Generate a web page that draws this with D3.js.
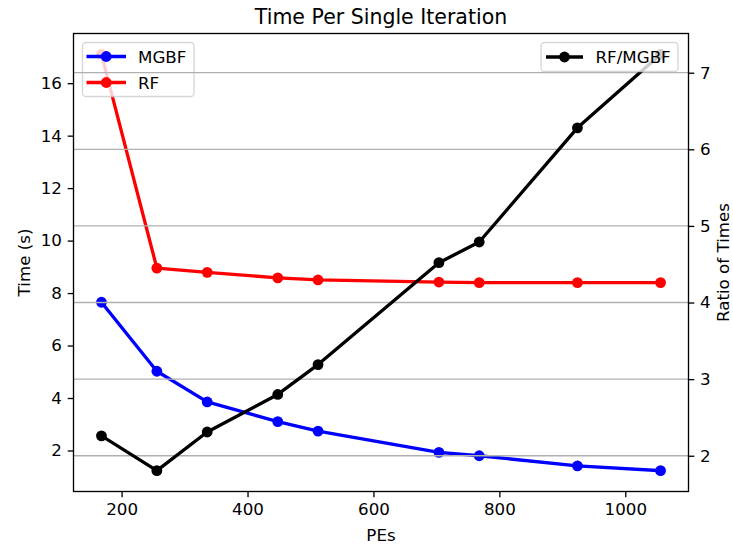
<!DOCTYPE html>
<html>
<head>
<meta charset="utf-8">
<script src="https://cdn.jsdelivr.net/npm/d3@7"></script>
<style>
  html, body { margin: 0; padding: 0; background: #fff; }
  svg { display: block; font-family: "DejaVu Sans", sans-serif; }
</style>
</head>
<body>
<svg id="chart" width="733" height="544"></svg>
<script>
// ---- data ----
const pes = [168, 256, 336, 448, 512, 704, 768, 924, 1056];
const mgbf = [7.65, 5.02, 3.85, 3.10, 2.74, 1.93, 1.80, 1.41, 1.23];
const rf = [17.1, 8.95, 8.79, 8.58, 8.50, 8.42, 8.40, 8.40, 8.40];
const ratio = [2.26, 1.805, 2.31, 2.80, 3.19, 4.52, 4.79, 6.28, 7.24];
const xTicks = [200, 400, 600, 800, 1000];
const yLeftTicks = [2, 4, 6, 8, 10, 12, 14, 16];
const yRightTicks = [2, 3, 4, 5, 6, 7];
const titleText = "Time Per Single Iteration";
const xLabel = "PEs";
const yLeftLabel = "Time (s)";
const yRightLabel = "Ratio of Times";

// ---- layout ----
const L = 73.5, R = 688.5, T = 33.5, B = 491.5;
const svg = d3.select("#chart");
const pad = (ext) => { const r = ext[1] - ext[0]; return [ext[0] - 0.05 * r, ext[1] + 0.05 * r]; };

const x = d3.scaleLinear().domain(pad(d3.extent(pes))).range([L, R]);
const yL = d3.scaleLinear().domain(pad([d3.min(mgbf.concat(rf)), d3.max(mgbf.concat(rf))])).range([B, T]);
const yR = d3.scaleLinear().domain(pad(d3.extent(ratio))).range([B, T]);

const fs = 16.7;
const lw = 3.33;
const mr = 5.4;
const tk = 5.8;

svg.append("defs").append("clipPath").attr("id", "clip")
  .append("rect").attr("x", L).attr("y", T).attr("width", R - L).attr("height", B - T);

function drawSeries(g, xs, ys, yScale, color) {
  const line = d3.line().x((d, i) => x(xs[i])).y(d => yScale(d));
  g.append("path").datum(ys).attr("d", line)
    .attr("fill", "none").attr("stroke", color).attr("stroke-width", lw)
    .attr("stroke-linejoin", "round").attr("stroke-linecap", "square")
    .attr("clip-path", "url(#clip)");
  g.selectAll(null).data(ys).enter().append("circle")
    .attr("cx", (d, i) => x(xs[i])).attr("cy", d => yScale(d))
    .attr("r", mr).attr("fill", color);
}

// ax1 content
const g1 = svg.append("g");
drawSeries(g1, pes, mgbf, yL, "#0000ff");
drawSeries(g1, pes, rf, yL, "#ff0000");

function legend(g, x0, y0, w, h, items, handleX, textX, rowY) {
  g.append("rect").attr("x", x0).attr("y", y0).attr("width", w).attr("height", h)
    .attr("rx", 3.5).attr("ry", 3.5)
    .attr("fill", "#ffffff").attr("fill-opacity", 0.8)
    .attr("stroke", "#cccccc").attr("stroke-opacity", 0.8).attr("stroke-width", 1.3);
  items.forEach((it, i) => {
    const yy = rowY[i];
    g.append("line").attr("x1", handleX[0]).attr("x2", handleX[1]).attr("y1", yy).attr("y2", yy)
      .attr("stroke", it.color).attr("stroke-width", lw);
    g.append("circle").attr("cx", (handleX[0] + handleX[1]) / 2).attr("cy", yy).attr("r", mr).attr("fill", it.color);
    g.append("text").attr("x", textX).attr("y", yy).attr("dy", "0.36em")
      .attr("font-size", fs).attr("fill", "#000").text(it.label);
  });
}

// ax1 legend
legend(svg.append("g"), 82.5, 42.5, 111.5, 54,
  [{label: "MGBF", color: "#0000ff"}, {label: "RF", color: "#ff0000"}],
  [86.5, 126], 138, [56.5, 82.5]);

// ax2 grid
const g2 = svg.append("g");
g2.selectAll(null).data(yRightTicks).enter().append("line")
  .attr("x1", L).attr("x2", R)
  .attr("y1", d => yR(d)).attr("y2", d => yR(d))
  .attr("stroke", "#b0b0b0").attr("stroke-width", 1.33);

drawSeries(g2, pes, ratio, yR, "#000000");

// ax2 legend
legend(svg.append("g"), 541, 42.5, 137, 29,
  [{label: "RF/MGBF", color: "#000000"}],
  [546, 583], 595.5, [57]);

// axes
const xAxis = d3.axisBottom(x).tickValues(xTicks).tickSize(tk).tickPadding(tk).tickFormat(d3.format("d"));
const yAxisL = d3.axisLeft(yL).tickValues(yLeftTicks).tickSize(tk).tickPadding(tk).tickFormat(d3.format("d"));
const yAxisR = d3.axisRight(yR).tickValues(yRightTicks).tickSize(tk).tickPadding(tk).tickFormat(d3.format("d"));

function styleAxis(g) {
  g.select(".domain").remove();
  g.selectAll(".tick line").attr("stroke", "#000").attr("stroke-width", 1.33);
  g.selectAll(".tick text").attr("font-size", fs).attr("fill", "#000").attr("font-family", "DejaVu Sans, sans-serif");
}
svg.append("g").attr("transform", `translate(0,${B})`).call(xAxis).call(styleAxis);
svg.append("g").attr("transform", `translate(${L},0)`).call(yAxisL).call(styleAxis);
svg.append("g").attr("transform", `translate(${R},0)`).call(yAxisR).call(styleAxis);

// frame
svg.append("rect").attr("x", L).attr("y", T).attr("width", R - L).attr("height", B - T)
  .attr("fill", "none").attr("stroke", "#000").attr("stroke-width", 1.33);

// labels
svg.append("text").attr("x", (L + R) / 2).attr("y", 24).attr("text-anchor", "middle")
  .attr("font-size", 20.5).attr("fill", "#000").text(titleText);
svg.append("text").attr("x", (L + R) / 2).attr("y", 541).attr("text-anchor", "middle")
  .attr("font-size", fs).attr("fill", "#000").text(xLabel);
svg.append("text").attr("transform", `translate(30,${(T + B) / 2}) rotate(-90)`).attr("text-anchor", "middle")
  .attr("font-size", fs).attr("fill", "#000").text(yLeftLabel);
svg.append("text").attr("transform", `translate(729,${(T + B) / 2}) rotate(-90)`).attr("text-anchor", "middle")
  .attr("font-size", fs).attr("fill", "#000").text(yRightLabel);
</script>
</body>
</html>
